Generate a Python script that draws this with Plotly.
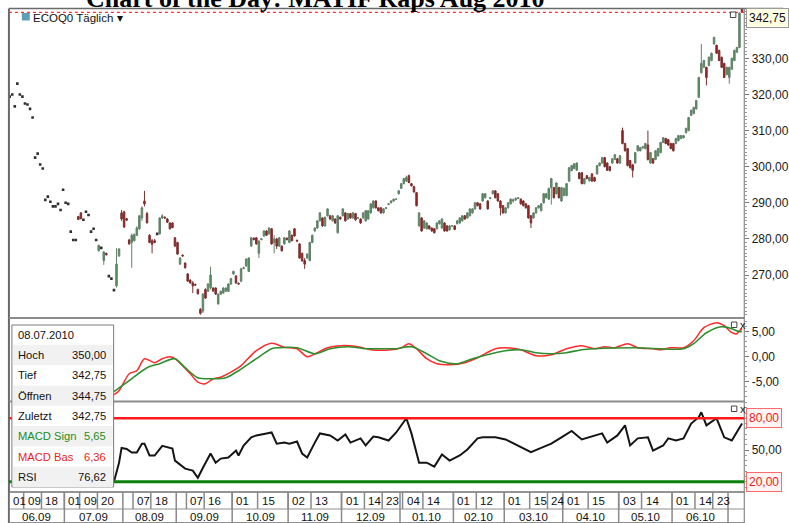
import plotly.graph_objects as go
import pandas as pd

W, H = 789, 523
FONT = "Liberation Sans, Arial, sans-serif"

# ---------------- data ----------------
dates = pd.bdate_range("2009-06-01", "2010-07-08")

opens = [
319.4,320,316.7,323,320,319.4,317.5,317.2,316,313.6,
302.5,303.6,300.6,299.5,290.8,291.7,290.3,289,289,289.7,
288,293.6,290,289.7,282,279.7,279.7,286.2,287.2,285.3,
287.5,286.6,282,282.8,279.7,276.7,277.5,274,276,269.7,
269,265.8,267,275.3,287.2,287.5,285.6,279.7,279,279.5,
281,282.8,285.8,290.5,287,281,279.5,279.5,281.4,281.4,
285.8,286,285.5,284.4,284.4,280.3,279,273,275.5,273.3,
270.3,268.6,267.8,267.4,266,260.5,260,266,265.5,266.5,
266.4,266.4,262,264.7,265,265.5,265.5,267.5,270.3,269.7,
267.7,268.3,271.8,272.5,271,278,280.2,280.3,276,279.8,
280.8,282.2,281.4,282.8,279,280,278,278,278.6,280.2,
279,281,282.8,279.6,278.6,276,274,274.7,274,279,
282.2,283,285,285.8,283.6,286.4,286.4,285,285.5,281.7,
286,286.4,287.2,285.5,287,285.8,287,285.8,285.5,285.8,
285,285.5,287.2,288.6,290.5,288.6,288.6,287.2,288.4,289.5,
290,290.5,291,292.5,294,295.3,296,297.5,295.3,294.5,
292.8,283.6,285.8,283,282.8,283.6,283,282.8,282.8,284.2,
283,284.4,283.6,282.5,283.6,283.6,284.2,284.4,285,286.4,
285.8,286.4,287.2,288.3,290,289.7,290.5,291.4,290.5,291.2,
292.5,293.3,292.5,290.5,289.2,287.2,288.6,289.7,290.5,290.8,
291.2,291,290.5,289.7,289.2,286.4,285.8,287.2,288.6,287.8,
290,291.4,291,294.2,294.2,292.5,294.2,290.5,292,292,
296,298.9,299.5,299,298.3,298.3,295.3,297.5,296.1,298,
297,298,300.3,301,302.5,301,300,301,302,302.2,
301,310,306.4,305,301.7,300.5,301,304.4,304.4,305.3,
305,306,301,302.2,302,303,303.9,306.7,307.8,307.5,
306.4,306.4,306.4,307.2,307.8,308,309.4,310,314.2,314.7,
316,319.2,326,327.5,327.5,328,329.4,334,333.6,332.2,
330.3,328.6,325.5,324.7,327,329.4,331.7,333,344.75]

highs = [
319.4,320,316.7,323,320,319.4,317.5,317.2,316,313.6,
302.5,303.6,300.6,299.5,290.8,291.7,290.3,289,289,289.7,
288,293.6,290,289.7,282,279.7,279.7,286.4,287.4,285.3,
287.5,286.6,282,282.8,279.7,278.4,277.5,276.6,276.2,269.7,
269,265.8,277.5,277.4,288,287.8,285.8,280,281.5,281.5,
283.5,286.6,289,293.3,287.5,281.3,280,280,281.4,286,
286.8,286.2,285.8,284.6,284.6,280.5,279.2,275,275.7,273.5,
270.5,268.8,268.3,267.6,266.2,260.8,265,266.3,267.7,272.3,
266.6,266.6,264.9,265.7,266.6,266.6,267.7,269.2,271.2,270,
267.9,272,272.3,274.6,274.9,280.5,280.4,280.5,279.6,280.2,
282.4,282.4,283.2,283,281,280.3,280.5,278.2,280.5,280.4,
282.4,281.2,283,279.8,278.8,276.2,274.7,276,279.2,281.2,
283.2,285.2,287.4,286,286.2,288.5,286.6,286.6,285.7,286.6,
286.2,288.5,287.4,287.2,287.2,287.5,287.2,286,285.7,287.4,
288,288,289.9,290.7,290.7,288.8,288.8,288.5,288.8,289.9,
290.7,291.2,291.2,293.5,295.5,296.9,297.5,297.8,295.5,294.7,
293,287.4,286,285.2,284.6,283.8,283.2,283,284.6,285.2,
285.7,284.6,283.8,283.8,283.8,283.8,285.2,286,286.6,286.6,
287.4,288.5,288.5,290.2,290.2,289.9,292.7,292.7,290.7,291.6,
293.5,293.5,292.7,290.7,289.4,288.8,290.2,291.2,291.2,291.5,
291.6,291.2,290.7,289.9,289.4,286.6,287.4,288.8,289.4,289.9,
292.7,292.7,294.2,296.9,294.4,295.7,294.4,294.4,294.2,295.5,
299.9,300.5,301,301.2,298.5,298.5,296.9,297.7,297.2,298.2,
297.2,300.5,301.2,302.7,302.7,301.2,300.2,302.4,303.5,302.4,
303.2,310.8,306.6,305.2,301.9,300.8,304.1,306,305.5,305.8,
306.6,310,304.1,302.4,304.6,305.2,306.9,308.2,308,307.7,
306.6,306.6,308,308.8,308.8,308.8,310.8,313.8,315.8,316.6,
318.5,324.9,334,329.6,327.7,330.5,331.6,336,333.8,332.4,
330.5,328.8,327.7,327.7,330.2,332.4,333.2,342.75,350]

lows = [
319.4,320,316.7,323,320,319.4,317.5,317.2,316,313.6,
302.5,303.6,300.6,299.5,290.8,291.7,290.3,289,289,289.7,
288,293.6,290,289.7,282,279.7,279.7,285.2,285.4,285.3,
287.5,286.6,282,282.8,279.7,276.5,277.5,272.8,275.4,269.7,
269,265.8,266.5,275,285,283,285,278.4,272,279.3,
280.8,282.5,285,289,284.2,278.8,276,278.8,281.4,281.2,
285.5,285.5,284.4,282.6,283,277.8,275.6,272.8,275,271.8,
268.1,267.6,265,267,264.6,259,259.5,263.4,265.3,266,
265.3,264.5,261.8,264.5,264.8,265.3,265.3,267.3,270,267.6,
267.3,268,271.6,272.3,270.8,277.8,279.6,278.4,274.7,279.6,
280.6,280.8,281.2,278.4,276,277.2,277.8,276.5,278.4,279.6,
278.8,279.3,280.6,279.2,274.5,273.7,271.7,274.5,273.8,278.8,
282,282.8,284.8,283.4,283.4,286.2,285.3,284.8,284.2,281.5,
285.3,286.2,284.8,285.3,285.6,285.6,285,285.6,284.2,285.6,
284.8,285.3,287,288.4,288.4,287.6,287,287,288.3,289.4,
289.8,290.3,290.8,292.3,293.8,295.1,295.8,295.4,294.5,292.8,
289,283.4,282,282.8,282.6,282.6,282,281.5,282.6,284,
282.8,282,282,282.3,283.4,282.4,284,284.2,284.8,285.3,
285.6,286.2,287,288.1,289,288.1,290.3,291.2,288.1,291,
292.3,291.2,290.3,286.5,287,287,288.4,289.5,290,290.5,
291,289.5,289,288.4,285.6,283,285.6,287,288.4,287.6,
289.8,291.2,290.8,289.5,291.2,292.3,291.2,290.3,291.8,291.8,
295.8,298.7,299.3,298.8,296.5,295.1,295.1,296.5,295.9,295.8,
295.8,297.8,300.1,300.8,299.8,298.8,298.7,300.8,301.8,300.8,
300.8,306.2,304.2,300.1,299.5,297,300.8,304.2,304.2,304.8,
304.8,301.7,300.8,300.8,301.8,302.8,303.7,306.5,306.2,305.8,
304.8,304.2,306.2,307,307.6,307.8,309.2,309.8,314,314.5,
315.8,319,325.8,327.3,322.5,327.8,329.2,333.8,331.2,329.2,
327.3,324.5,325.3,323,326.8,329.2,331.5,332.8,342.75]

closes = [
319.4,320,316.7,323,320,319.4,317.5,317.2,316,313.6,
302.5,303.6,300.6,299.5,290.8,291.7,290.3,289,289,289.7,
288,293.6,290,289.7,282,279.7,279.7,285.4,285.6,285.3,
287.5,286.6,282,282.8,279.7,278.2,277.5,276.4,275.6,269.7,
269,265.8,273,277.2,285.5,283.3,285.2,278.6,281,281.2,
283,286.4,288.6,289.7,284.5,279,278.5,279,281.4,285.8,
286.4,285.8,284.6,282.8,283.1,278,275.8,274.7,275.3,272,
268.3,267.8,267,267.2,264.8,259.4,264.7,263.6,267.5,270,
265.6,264.7,264.7,265.5,266.4,266.4,267.5,269,271,267.8,
267.5,271.7,272,274.4,274.7,280.3,279.8,278.6,279.4,280,
282.2,281,283,278.6,280,278,280.3,276.7,280.3,279.8,
282.2,279.5,280.8,279.4,274.7,273.9,273,275.8,279,281,
283,285,287.2,283.6,286,288.3,285.5,286.4,284.4,286.4,
285.5,288.3,285,287,285.8,287.2,285.3,285.8,284.4,287.2,
287.8,287.8,289.7,290.5,288.6,287.8,287.2,288.3,288.6,289.7,
290.5,291,291,293.3,295.3,296.7,297,295.6,294.7,293,
289.2,287.2,282.2,285,284.4,282.8,282.2,281.7,284.4,285,
285.5,282.2,282.2,283.6,283.6,282.6,285,285.8,286.4,285.5,
287.2,288.3,288.3,290,289.2,288.3,292.5,292.5,288.3,291.4,
293.3,291.4,290.5,288.6,287.2,288.6,290,291,290.8,291.2,
291.4,289.7,289.2,288.6,285.8,284.4,287.2,288.6,289.2,289.7,
292.5,292.5,294,296.7,291.4,295.5,291.4,294.2,294,295.3,
299.7,300.3,300.8,301,296.7,295.3,296.7,296.7,297,296,
296,300.3,301,302.5,300,299,298.9,302.2,303.3,301,
303,306.4,304.4,300.3,299.7,299,303.9,305.8,305.3,305.5,
306.4,302,303.9,301,304.4,305,306.7,308,306.4,306,
305,304.4,307.8,308.6,308.6,308.6,310.6,313.6,315.6,316.4,
318.3,324.7,328.6,329.4,324.7,330.3,331.4,335.8,331.4,329.4,
327.5,324.7,327.5,327.5,330,332.2,333,342.5,342.75]

# MACD (red) and signal (green): trading-day index -> value
macd_x = [41,43,47,50,53,57,60,63,65,71,74,77,80,83,89,91,97,103,108,113,
          117,121,125,130,137,142,150,154,157,160,164,168,173,179,184,191,195,201,207,213,
          219,225,230,234,238,243,247,253,256,260,265,269,273,278,281,284,286,287,288]
macd_v = [-7.6,-6.8,-3.4,-2.8,-0.4,-1.2,-0.4,0,-0.4,-3.4,-5.1,-5.4,-4.4,-4.1,-2.5,-1.8,1.2,2.7,1.9,1.6,
          0,0.8,1.8,2.2,2,1.4,1.4,1.8,2.6,1.6,-0.4,-1.4,-1.6,-1.2,-0.2,1.6,1.8,1.4,0.2,0.4,
          1.6,2.2,1.6,2,1.8,2.6,1.8,1.6,1.4,1.8,1.8,3.2,5.8,6.8,6.2,4.8,4.6,5.2,5.6]
signal_x = [41,47,54,59,65,69,74,80,85,90,97,103,106,113,120,126,133,140,147,152,
            158,164,169,176,182,191,195,201,207,213,219,225,230,246,265,269,274,280,284,287,288]
signal_v = [-7,-4.8,-2.2,-1.4,-0.4,-2.2,-4.2,-4.4,-4.2,-2.8,-0.4,1.6,1.8,1.8,0.6,1.6,2,1.6,1.6,1.6,
            2,0.6,-0.8,-1.4,-0.4,0.8,1.2,1.4,0.8,0.6,0.8,1.4,1.6,1.8,1.6,2.6,4.8,6,5.6,5,5.1]

# RSI
rsi_x = [41,43,44,46,48,50,52,53,55,57,60,64,65,69,72,74,76,79,81,83,
         86,89,90,92,95,97,101,103,105,108,110,113,115,117,120,122,126,129,132,134,
         138,140,143,145,149,152,156,158,161,164,167,170,173,177,180,184,186,191,195,199,
         205,209,213,217,221,225,228,230,233,235,239,242,244,247,251,253,257,259,262,265,
         268,271,272,274,278,281,284,288]
rsi_v = [20,38,52,51,47.6,47.6,56,56,44.8,44.8,54,51.4,40,32.4,30.5,23.8,33.3,46.7,38,41.9,
         42.9,49.5,44.8,54.3,62,63.8,65.7,66.6,56,57,56,58,46.7,42.9,57,65.7,63.8,59,64.7,57,
         61,54.3,62.8,62,59,66.6,80,65.7,38,38,34.3,45.7,40,44.8,50.5,61,62,62,60,55,
         48,52,56,62,68,60,62,63.8,65.7,57,63.8,73.3,54.3,61,62,49.5,54.3,61,59,61,
         75,81,85.7,73.3,80,62,59,75]

# tick labels
day_ticks = ["2009-06-01","2009-06-09","2009-06-18","2009-07-01","2009-07-09","2009-07-20",
             "2009-08-07","2009-08-18","2009-09-07","2009-09-16","2009-10-01","2009-10-15",
             "2009-11-02","2009-11-13","2009-12-01","2009-12-14","2009-12-23","2010-01-04",
             "2010-01-14","2010-02-01","2010-02-12","2010-03-01","2010-03-15","2010-03-24",
             "2010-04-01","2010-04-15","2010-05-03","2010-05-14","2010-06-01","2010-06-14",
             "2010-06-23"]
price_ticks = [270, 280, 290, 300, 310, 320, 330]
macd_ticks = [-5, 0, 5]
rsi_ticks = [50]
rsi_levels = [80, 20]

tip_macd_sign = 5.65
tip_macd_bas = 6.36
tip_rsi = 76.62

# ---------------- helpers ----------------
def PX(x):
    return x / W

def PY(y):
    return 1 - y / H

def de(v):
    return f"{v:.2f}".replace(".", ",")

n = min(len(dates), len(opens), len(highs), len(lows), len(closes))
idx = list(range(n))
X0, X1 = 9, 750
XMIN = -0.3
xrange_ = [XMIN, n - 0.1]

dot_i = [i for i in idx if highs[i] == lows[i]]
cand_i = [i for i in idx if highs[i] != lows[i]]

fig = go.Figure()

fig.add_trace(go.Candlestick(
    x=cand_i,
    open=[opens[i] for i in cand_i], high=[highs[i] for i in cand_i],
    low=[lows[i] for i in cand_i], close=[closes[i] for i in cand_i],
    increasing=dict(line=dict(color="#62806a", width=1), fillcolor="#4f9650"),
    decreasing=dict(line=dict(color="#7a3030", width=1), fillcolor="#a81818"),
    whiskerwidth=0, xaxis="x", yaxis="y", hoverinfo="skip"))

fig.add_trace(go.Scatter(
    x=dot_i, y=[closes[i] for i in dot_i], mode="markers",
    marker=dict(symbol="square", size=2.6, color="#303030"),
    xaxis="x", yaxis="y", hoverinfo="skip"))

fig.add_trace(go.Scatter(x=macd_x, y=macd_v, mode="lines",
                         line=dict(color="#ff2a2a", width=1.5, shape="spline", smoothing=0.8),
                         xaxis="x2", yaxis="y2", hoverinfo="skip"))
fig.add_trace(go.Scatter(x=signal_x, y=signal_v, mode="lines",
                         line=dict(color="#2f8f2f", width=1.6, shape="spline", smoothing=0.8),
                         xaxis="x2", yaxis="y2", hoverinfo="skip"))
fig.add_trace(go.Scatter(x=rsi_x, y=rsi_v, mode="lines",
                         line=dict(color="#151515", width=2),
                         xaxis="x3", yaxis="y3", hoverinfo="skip"))

xcommon = dict(domain=[PX(X0), PX(X1)], range=xrange_, showticklabels=False,
               showgrid=False, zeroline=False, showline=False, ticks="", fixedrange=True)
ycommon = dict(side="right", showgrid=False, zeroline=False, showline=False,
               ticks="outside", ticklen=4, tickcolor="#777", tickwidth=1,
               tickfont=dict(size=12, color="#1a1a1a", family=FONT), fixedrange=True,
               tickmode="array")

fig.update_layout(
    width=W, height=H, margin=dict(l=0, r=0, t=0, b=0),
    paper_bgcolor="white", plot_bgcolor="white", showlegend=False,
    hovermode=False, boxgap=0.15,
    xaxis=dict(**xcommon, anchor="y", rangeslider=dict(visible=False)),
    xaxis2=dict(**xcommon, anchor="y2"),
    xaxis3=dict(**xcommon, anchor="y3"),
    yaxis=dict(**ycommon, anchor="x", domain=[PY(317), PY(9)], range=[258.37, 343.66],
               tickvals=price_ticks, ticktext=[de(v) for v in price_ticks],
               minor=dict(ticks="outside", ticklen=2, tickcolor="#999", dtick=1, tick0=0)),
    yaxis2=dict(**ycommon, anchor="x2", domain=[PY(401), PY(319)], range=[-8.86, 7.54],
                tickvals=macd_ticks, ticktext=[de(v) for v in macd_ticks],
                minor=dict(ticks="outside", ticklen=2, tickcolor="#999", dtick=1, tick0=0)),
    yaxis3=dict(**ycommon, anchor="x3", domain=[PY(492), PY(402)], range=[10.3, 95.4],
                tickvals=rsi_ticks, ticktext=[de(v) for v in rsi_ticks],
                minor=dict(ticks="outside", ticklen=2, tickcolor="#999", dtick=5, tick0=0)),
)

shapes = []
ann = []

def hline(y, x0=X0, x1=X1, color="#808080", width=1.5, dash="solid"):
    shapes.append(dict(type="line", xref="paper", yref="paper", x0=PX(x0), x1=PX(x1),
                       y0=PY(y), y1=PY(y), line=dict(color=color, width=width, dash=dash)))

def vline(x, y0, y1, color="#808080", width=1.5):
    shapes.append(dict(type="line", xref="paper", yref="paper", x0=PX(x), x1=PX(x),
                       y0=PY(y0), y1=PY(y1), line=dict(color=color, width=width)))

# frame
hline(8.5, X0, W, color="#6a6a6a", width=1.5)
vline(X0, 8.5, H, color="#6a6a6a", width=2)
vline(X1, 8.5, H, color="#8a8a8a", width=1.2)
hline(318, color="#8c8c8c", width=2)
hline(401.5, color="#8c8c8c", width=2)
hline(492, color="#707070", width=1.5)
hline(509, color="#909090", width=1)
hline(H - 0.5, color="#909090", width=1)

# last price dotted line
shapes.append(dict(type="line", xref="paper", yref="y", x0=PX(X0), x1=PX(X1),
                   y0=closes[n - 1], y1=closes[n - 1],
                   line=dict(color="#ff3030", width=1.2, dash="dot")))
# RSI levels
for lv, col, wd in zip(rsi_levels, ["#ff1a1a", "#0a800a"], [2.5, 3]):
    shapes.append(dict(type="line", xref="paper", yref="y3", x0=PX(X0), x1=PX(X1),
                       y0=lv, y1=lv, line=dict(color=col, width=wd)))

# date rows
month_first = {}
for i in idx:
    key = (dates[i].year, dates[i].month)
    month_first.setdefault(key, i)
keys = list(month_first.keys())
for k_i, key in enumerate(keys):
    first = month_first[key]
    last = month_first[keys[k_i + 1]] - 1 if k_i + 1 < len(keys) else n - 1
    xs = max(first - 0.5, XMIN)
    shapes.append(dict(type="line", xref="x", yref="paper", x0=xs, x1=xs,
                       y0=PY(492), y1=PY(H), line=dict(color="#8a8a8a", width=1.5)))
    if last - first >= 10:
        ann.append(dict(xref="x", yref="paper", x=(first + last) / 2, y=PY(516.5),
                        text=dates[first].strftime("%m.%y"), showarrow=False,
                        xanchor="center", yanchor="middle",
                        font=dict(size=11.5, color="#111", family=FONT)))
for d in day_ticks:
    ts = pd.Timestamp(d)
    if ts not in dates:
        continue
    i = dates.get_loc(ts)
    xs = max(i - 0.5, XMIN)
    shapes.append(dict(type="line", xref="x", yref="paper", x0=xs, x1=xs,
                       y0=PY(492), y1=PY(509), line=dict(color="#8a8a8a", width=1.5)))
    ann.append(dict(xref="x", yref="paper", x=xs, y=PY(501), xshift=2,
                    text=f"{ts.day:02d}", showarrow=False, xanchor="left", yanchor="middle",
                    font=dict(size=11.5, color="#111", family=FONT)))

# last price label
ann.append(dict(xref="paper", yref="paper", x=PX(752), y=PY(18), xanchor="left",
                yanchor="middle", text=de(closes[n - 1]), showarrow=False,
                bgcolor="#ffffe4", bordercolor="#9a9a9a", borderwidth=1, borderpad=2,
                font=dict(size=12, color="#111", family=FONT)))
# RSI level labels
for lv in rsi_levels:
    ann.append(dict(xref="paper", yref="y3", x=PX(752), y=lv, xanchor="left",
                    yanchor="middle", text=de(lv), showarrow=False,
                    bgcolor="#fff3f3", bordercolor="#ff6a6a", borderwidth=1, borderpad=2,
                    font=dict(size=12, color="#ee1c1c", family=FONT)))

# title (cropped at top)
ann.append(dict(xref="paper", yref="paper", x=PX(318), y=PY(15), xanchor="center",
                yanchor="bottom", text="<b>Chart of the Day: MATIF Raps Aug 2010</b>",
                showarrow=False, font=dict(size=26, color="#000",
                                           family="Liberation Serif, Times New Roman, serif")))

# chart name
shapes.append(dict(type="rect", xref="paper", yref="paper", x0=PX(22), x1=PX(30),
                   y0=PY(20.5), y1=PY(13), line=dict(width=0), fillcolor="#5f9fb5"))
ann.append(dict(xref="paper", yref="paper", x=PX(31), y=PY(17.5), xanchor="left",
                yanchor="middle", text="ECOQ0 Täglich ▾", showarrow=False,
                font=dict(size=11.5, color="#111", family=FONT)))

# window icons
for (bx, by, with_x) in [(736, 12, False), (737, 322, True), (737, 406, True)]:
    shapes.append(dict(type="rect", xref="paper", yref="paper", x0=PX(bx), x1=PX(bx + 5.5),
                       y0=PY(by + 5.5), y1=PY(by), line=dict(color="#444", width=1),
                       fillcolor="white"))
    if with_x:
        ann.append(dict(xref="paper", yref="paper", x=PX(bx + 7), y=PY(by + 2.5),
                        xanchor="left", yanchor="middle", text="x", showarrow=False,
                        font=dict(size=11, color="#222", family=FONT)))

# data window box
BX0, BX1, BY0, BY1 = 12, 114.5, 325, 487
shapes.append(dict(type="rect", xref="paper", yref="paper", x0=PX(BX0), x1=PX(BX1),
                   y0=PY(BY1), y1=PY(BY0), line=dict(color="#7a7a7a", width=1),
                   fillcolor="white"))
rows = [
    ("Hoch", de(highs[n - 1]), "#111"),
    ("Tief", de(lows[n - 1]), "#111"),
    ("Öffnen", de(opens[n - 1]), "#111"),
    ("Zuletzt", de(closes[n - 1]), "#111"),
    ("MACD Sign", de(tip_macd_sign), "#1e8c1e"),
    ("MACD Bas", de(tip_macd_bas), "#ee1c1c"),
    ("RSI", de(tip_rsi), "#111"),
]
row_h = 20.35
y_head = 334.5
TIPF = 11.2
ann.append(dict(xref="paper", yref="paper", x=PX(16), y=PY(y_head), xanchor="left",
                yanchor="middle", text=dates[n - 1].strftime("%d.%m.%Y"), showarrow=False,
                font=dict(size=TIPF, color="#111", family=FONT)))
for k, (lab, val, col) in enumerate(rows):
    yc = y_head + row_h * (k + 1)
    if k % 2 == 0:
        shapes.append(dict(type="rect", xref="paper", yref="paper", x0=PX(BX0 + 1),
                           x1=PX(BX1 - 1), y0=PY(yc + row_h / 2), y1=PY(yc - row_h / 2),
                           line=dict(width=0), fillcolor="#f1f1f1"))
    ann.append(dict(xref="paper", yref="paper", x=PX(16), y=PY(yc), xanchor="left",
                    yanchor="middle", text=lab, showarrow=False,
                    font=dict(size=TIPF, color=col, family=FONT)))
    ann.append(dict(xref="paper", yref="paper", x=PX(109), y=PY(yc), xanchor="right",
                    yanchor="middle", text=val, showarrow=False,
                    font=dict(size=TIPF, color=col, family=FONT)))

fig.update_layout(shapes=shapes, annotations=ann)
fig.write_html("out.html", config={"displayModeBar": False, "staticPlot": True},
               post_script="document.body.style.margin='0';document.body.style.overflow='hidden';")
